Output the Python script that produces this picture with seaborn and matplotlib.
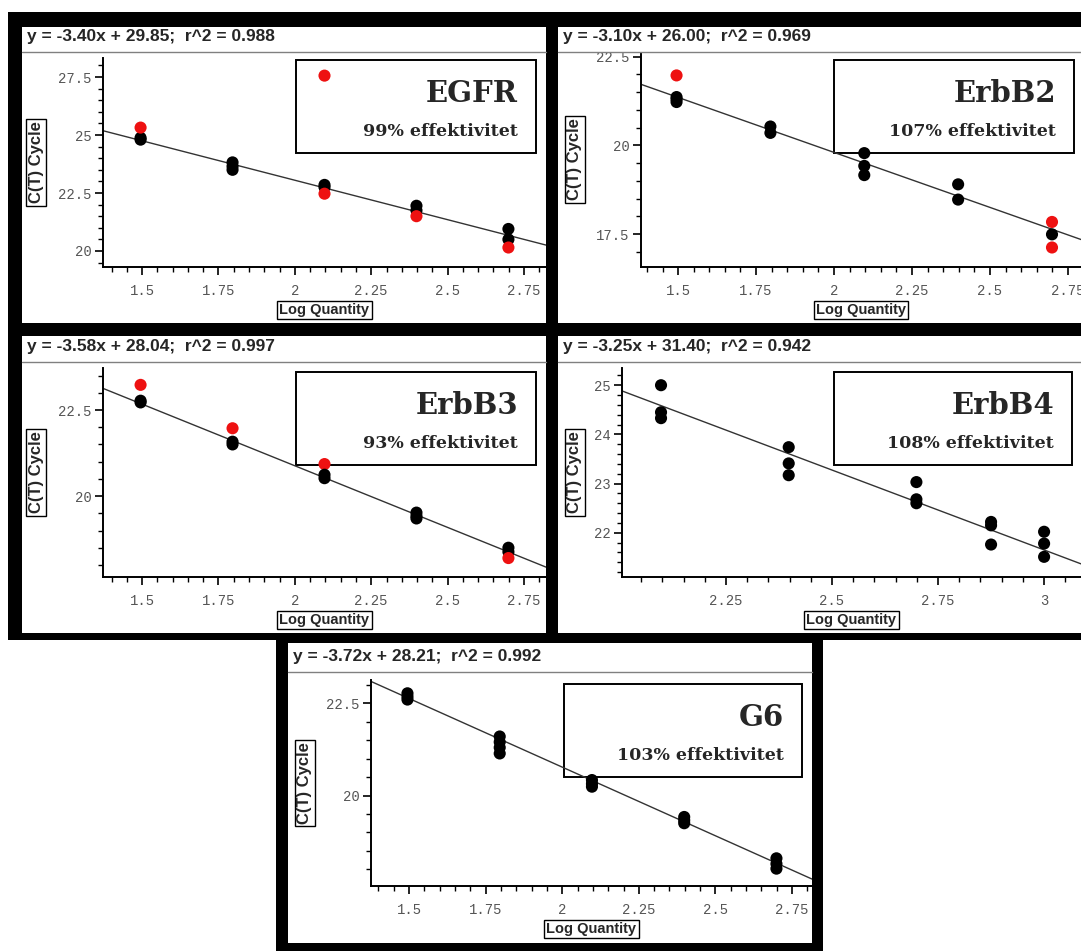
import pandas as pd
import seaborn as sns
import matplotlib.pyplot as plt
from matplotlib.patches import Rectangle
from matplotlib.lines import Line2D
from matplotlib.ticker import MultipleLocator, FuncFormatter

# --- data ---
genes = ["EGFR", "ErbB2", "ErbB3", "ErbB4", "G6"]
slopes = [-3.40, -3.10, -3.58, -3.25, -3.72]
intercepts = [29.85, 26.00, 28.04, 31.40, 28.21]
r_squared = [0.988, 0.969, 0.997, 0.942, 0.992]
efficiency = [99, 107, 93, 108, 103]

egfr_logq = [1.495, 1.495, 1.495, 1.796, 1.796, 1.796, 2.097, 2.097, 2.097, 2.097,
             2.398, 2.398, 2.398, 2.699, 2.699, 2.699]
egfr_ct = [24.80, 24.88, 25.32, 23.82, 23.65, 23.50, 22.85, 22.75, 22.47, 27.56,
           21.95, 21.75, 21.50, 20.95, 20.50, 20.15]
egfr_status = ["ok", "ok", "ut", "ok", "ok", "ok", "ok", "ok", "ut", "ut",
               "ok", "ok", "ut", "ok", "ok", "ut"]

erbb2_logq = [1.495, 1.495, 1.495, 1.495, 1.796, 1.796, 2.097, 2.097, 2.097,
              2.398, 2.398, 2.699, 2.699, 2.699]
erbb2_ct = [21.97, 21.36, 21.30, 21.22, 20.53, 20.35, 19.78, 19.42, 19.16,
            18.90, 18.47, 17.84, 17.49, 17.12]
erbb2_status = ["ut", "ok", "ok", "ok", "ok", "ok", "ok", "ok", "ok",
                "ok", "ok", "ut", "ok", "ut"]

erbb3_logq = [1.495, 1.495, 1.495, 1.796, 1.796, 1.796, 2.097, 2.097, 2.097,
              2.398, 2.398, 2.398, 2.699, 2.699, 2.699]
erbb3_ct = [23.23, 22.77, 22.72, 21.97, 21.58, 21.50, 20.93, 20.62, 20.52,
            19.52, 19.42, 19.35, 18.50, 18.38, 18.20]
erbb3_status = ["ut", "ok", "ok", "ut", "ok", "ok", "ut", "ok", "ok",
                "ok", "ok", "ok", "ok", "ok", "ut"]

erbb4_logq = [2.097, 2.097, 2.097, 2.398, 2.398, 2.398, 2.699, 2.699, 2.699,
              2.875, 2.875, 2.875, 3.0, 3.0, 3.0]
erbb4_ct = [25.00, 24.45, 24.33, 23.74, 23.41, 23.17, 23.03, 22.68, 22.60,
            22.22, 22.15, 21.76, 22.02, 21.78, 21.51]
erbb4_status = ["ok"] * 15

g6_logq = [1.495, 1.495, 1.495, 1.796, 1.796, 1.796, 1.796, 2.097, 2.097, 2.097,
           2.398, 2.398, 2.398, 2.699, 2.699, 2.699]
g6_ct = [22.77, 22.68, 22.60, 21.60, 21.45, 21.30, 21.14, 20.42, 20.32, 20.24,
         19.42, 19.33, 19.25, 18.30, 18.15, 18.02]
g6_status = ["ok"] * 16

curves = [
    (egfr_logq, egfr_ct, egfr_status),
    (erbb2_logq, erbb2_ct, erbb2_status),
    (erbb3_logq, erbb3_ct, erbb3_status),
    (erbb4_logq, erbb4_ct, erbb4_status),
    (g6_logq, g6_ct, g6_status),
]

# --- layout, in pixels of the 1081x951 screenshot ---
W, H = 1081, 951
layout = [
    dict(white=(22, 27, 546, 323), head=37, line=52, axes=(103, 58, 546, 267),
         xlim=(1.372, 2.822), ylim=(19.31, 28.32), ymaj=2.5, ymin=0.5, ylab=67,
         box=(296, 60, 536, 153)),
    dict(white=(558, 27, 1081, 323), head=37, line=52, axes=(641, 52, 1081, 267),
         xlim=(1.381, 2.792), ylim=(16.57, 22.63), ymaj=2.5, ymin=0.5, ylab=66,
         box=(834, 60, 1074, 153)),
    dict(white=(22, 336, 546, 633), head=347, line=362, axes=(103, 368, 546, 577),
         xlim=(1.372, 2.822), ylim=(17.65, 23.72), ymaj=2.5, ymin=0.5, ylab=67,
         box=(296, 372, 536, 465)),
    dict(white=(558, 336, 1081, 633), head=347, line=362, axes=(622, 368, 1081, 577),
         xlim=(2.005, 3.087), ylim=(21.10, 25.35), ymaj=1.0, ymin=0.2, ylab=47,
         box=(834, 372, 1072, 465)),
    dict(white=(288, 643, 812, 943), head=657, line=672, axes=(371, 680, 812, 886),
         xlim=(1.376, 2.815), ylim=(17.55, 23.13), ymaj=2.5, ymin=0.5, ylab=66,
         box=(564, 684, 802, 777)),
]

HEAD_FONT = ["Liberation Sans Narrow", "Liberation Sans", "DejaVu Sans"]
SERIF_FONT = ["DejaVu Serif"]

sns.set_theme(style="ticks")
plt.rcParams["font.family"] = ["Liberation Mono", "DejaVu Sans Mono"]
palette = {"ok": "black", "ut": "#ee1111"}


def fx(px):
    return px / W


def fy(py):
    return 1 - py / H


def frect(x0, y0, x1, y1, **kw):
    return Rectangle((fx(x0), fy(y1)), (x1 - x0) / W, (y1 - y0) / H,
                     transform=fig.transFigure, figure=fig, **kw)


fig = plt.figure(figsize=(W / 100, H / 100), dpi=100)
fig.patch.set_facecolor("white")

# black frames behind the panels
fig.patches.append(frect(8, 12, 1090, 640, facecolor="black", lw=0, zorder=-3))
fig.patches.append(frect(276, 636, 823, 951, facecolor="black", lw=0, zorder=-3))

for i, (gene, lay) in enumerate(zip(genes, layout)):
    logq, ct, status = curves[i]
    wx0, wy0, wx1, wy1 = lay["white"]
    fig.patches.append(frect(wx0, wy0, wx1, wy1, facecolor="white", lw=0, zorder=-2))

    # legend-like label box
    bx0, by0, bx1, by1 = lay["box"]
    fig.patches.append(frect(bx0, by0, bx1, by1, facecolor="white",
                             edgecolor="black", lw=1.4, zorder=-1))
    fig.text(fx(bx1 - 18), fy(by0 + 33), gene, ha="right", va="center",
             fontsize=21, fontweight="bold", family=SERIF_FONT, zorder=-0.5)
    fig.text(fx(bx1 - 18), fy(by0 + 71), f"{efficiency[i]}% effektivitet",
             ha="right", va="center", fontsize=12.5, fontweight="bold",
             family=SERIF_FONT, zorder=-0.5)

    ax0, ay0, ax1, ay1 = lay["axes"]
    axw, axh = ax1 - ax0, ay1 - ay0
    ax = fig.add_axes([fx(ax0), fy(ay1), axw / W, axh / H])
    ax.patch.set_visible(False)

    df = pd.DataFrame({"logq": logq, "ct": ct, "status": status})
    ax.axline((0, intercepts[i]), slope=slopes[i], color="#333333", lw=1.0, zorder=1.5)
    sns.scatterplot(data=df, x="logq", y="ct", hue="status", palette=palette,
                    s=76, linewidth=0, legend=False, ax=ax, zorder=3)

    ax.set_xlim(*lay["xlim"])
    ax.set_ylim(*lay["ylim"])
    ax.xaxis.set_major_locator(MultipleLocator(0.25))
    ax.xaxis.set_minor_locator(MultipleLocator(0.05))
    ax.yaxis.set_major_locator(MultipleLocator(lay["ymaj"]))
    ax.yaxis.set_minor_locator(MultipleLocator(lay["ymin"]))
    fmt = FuncFormatter(lambda v, p: f"{v:g}")
    ax.xaxis.set_major_formatter(fmt)
    ax.yaxis.set_major_formatter(fmt)

    for side in ["top", "right"]:
        ax.spines[side].set_visible(False)
    for side in ["left", "bottom"]:
        ax.spines[side].set_color("black")
        ax.spines[side].set_linewidth(1.4)
    ax.tick_params(which="major", direction="out", length=6, width=1.2,
                   color="black", labelsize=10, labelcolor="#555555")
    ax.tick_params(which="minor", direction="out", length=3.5, width=1.0, color="black")
    ax.tick_params(axis="x", which="major", pad=6)
    ax.tick_params(axis="y", which="major", pad=2)

    label_box = dict(boxstyle="square,pad=0.15", facecolor="white",
                     edgecolor="black", lw=1)
    ax.set_xlabel("Log Quantity", fontsize=10.5, fontweight="bold", family=HEAD_FONT,
                  va="center", bbox=label_box)
    ax.xaxis.set_label_coords(0.5, -43 / axh)
    ax.set_ylabel("C(T) Cycle", fontsize=12, fontweight="bold", family=HEAD_FONT,
                  rotation=90, va="center", ha="center", bbox=label_box)
    ax.yaxis.set_label_coords(-lay["ylab"] / axw, 0.5)

    # header strip with the fit equation
    fig.patches.append(frect(wx0, wy0, wx1, lay["line"], facecolor="white",
                             lw=0, zorder=1))
    fig.lines.append(Line2D([fx(wx0), fx(wx1)], [fy(lay["line"])] * 2,
                            transform=fig.transFigure, color="#808080", lw=1, zorder=2))
    fig.text(fx(wx0 + 5), fy(lay["head"]),
             f"y = {slopes[i]:.2f}x + {intercepts[i]:.2f};  r^2 = {r_squared[i]:.3f}",
             ha="left", va="center", fontsize=12.5, fontweight="bold",
             family=HEAD_FONT, zorder=3)

fig.savefig("out.png", dpi=100)
